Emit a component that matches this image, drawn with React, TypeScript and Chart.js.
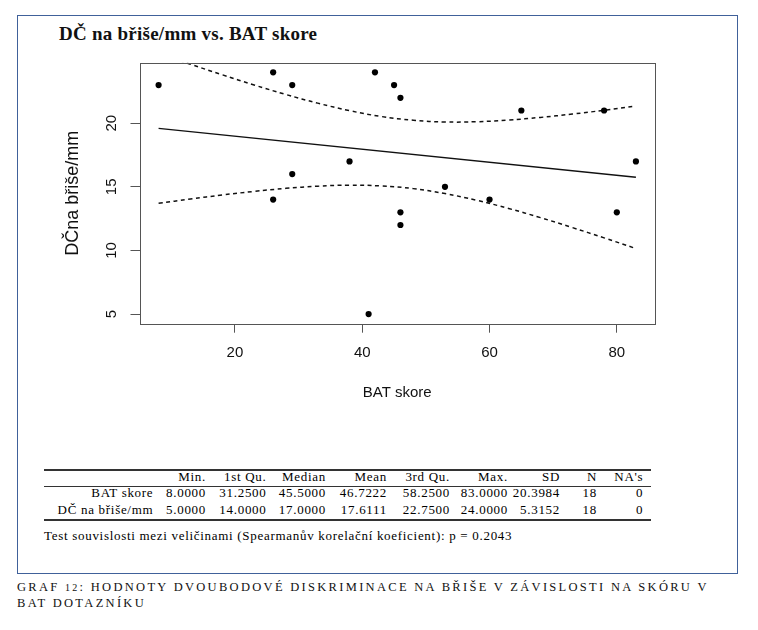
import React, { useEffect, useRef } from "react";
import { Chart, registerables } from "chart.js";

Chart.register(...registerables);

// ---- data ----
const batScore = [8, 26, 26, 29, 29, 38, 41, 42, 45, 46, 46, 46, 53, 60, 65, 78, 80, 83];
const dcBrise = [23, 24, 14, 23, 16, 17, 5, 24, 23, 22, 13, 12, 15, 14, 21, 21, 13, 17];

const fitX = [8, 83];
const fitY = [19.6, 15.75];

const bandX = [8, 13, 18, 23, 28, 33, 38, 43, 48, 53, 58, 63, 68, 73, 78, 83];
const bandUpper = [25.49, 24.64, 23.81, 23.01, 22.26, 21.58, 20.99, 20.53, 20.24, 20.1, 20.12, 20.25, 20.46, 20.72, 21.02, 21.35];
const bandLower = [13.71, 14.04, 14.36, 14.64, 14.88, 15.05, 15.13, 15.07, 14.86, 14.47, 13.94, 13.3, 12.58, 11.8, 10.99, 10.15];

const xTicks = [20, 40, 60, 80];
const yTicks = [5, 10, 15, 20];
const xRange = [5, 86];
const yRange = [4.24, 24.76];

const chartTitle = "DČ na břiše/mm vs. BAT skore";
const xTitle = "BAT skore";
const yTitle = "DČna břiše/mm";

const tableHeader = ["Min.", "1st Qu.", "Median", "Mean", "3rd Qu.", "Max.", "SD", "N", "NA's"];
const rowLabels = ["BAT skore", "DČ na břiše/mm"];
const batStats = ["8.0000", "31.2500", "45.5000", "46.7222", "58.2500", "83.0000", "20.3984", "18", "0"];
const dcStats = ["5.0000", "14.0000", "17.0000", "17.6111", "22.7500", "24.0000", "5.3152", "18", "0"];
const testLine = "Test souvislosti mezi veličinami (Spearmanův korelační koeficient): p = 0.2043";
const captionLine1 = "HODNOTY DVOUBODOVÉ DISKRIMINACE NA BŘIŠE V ZÁVISLOSTI NA SKÓRU V";
const captionLine2 = "BAT DOTAZNÍKU";

// ---- layout constants ----
const SANS = '"Liberation Sans", Arial, Helvetica, sans-serif';
const SERIF = '"Liberation Serif", "Times New Roman", serif';
const colRight = [206, 266.5, 326, 387, 450, 508, 560, 597, 643.3];
const labelRight = 153.3;

const zip = (xs: number[], ys: number[]) => xs.map((x, i) => ({ x, y: ys[i] }));

const rAxesPlugin = {
  id: "rAxes",
  afterDraw(chart: any) {
    const { ctx, chartArea: a, scales } = chart;
    ctx.save();
    ctx.strokeStyle = "#555";
    ctx.lineWidth = 1;
    const l = Math.round(a.left) + 0.5;
    const t = Math.round(a.top) + 0.5;
    ctx.strokeRect(l, t, Math.round(a.right) - Math.round(a.left), Math.round(a.bottom) - Math.round(a.top));
    ctx.fillStyle = "#111";
    ctx.font = `15px ${SANS}`;
    ctx.textAlign = "center";
    ctx.textBaseline = "middle";
    for (const v of yTicks) {
      const py = scales.y.getPixelForValue(v);
      ctx.save();
      ctx.translate(a.left - 28, py);
      ctx.rotate(-Math.PI / 2);
      ctx.fillText(String(v), 0, 0);
      ctx.restore();
    }
    ctx.restore();
  },
};

function ScatterChart() {
  const ref = useRef<HTMLCanvasElement | null>(null);
  useEffect(() => {
    if (!ref.current) return;
    const lineBase = { showLine: true, pointRadius: 0, fill: false, borderColor: "#111", backgroundColor: "#111" };
    const chart = new Chart(ref.current, {
      type: "scatter",
      data: {
        datasets: [
          { label: "data", data: zip(batScore, dcBrise), pointRadius: 3.1, pointBorderWidth: 0, backgroundColor: "#000", borderColor: "#000", showLine: false },
          { ...lineBase, label: "fit", data: zip(fitX, fitY), borderWidth: 1.4 },
          { ...lineBase, label: "upper", data: zip(bandX, bandUpper), borderWidth: 1.5, borderDash: [4, 3.5], tension: 0.4 },
          { ...lineBase, label: "lower", data: zip(bandX, bandLower), borderWidth: 1.5, borderDash: [4, 3.5], tension: 0.4 },
        ],
      } as any,
      options: {
        animation: false,
        responsive: false,
        devicePixelRatio: 1,
        layout: { padding: { left: 45.2, top: 47.7, right: 82, bottom: 18.3 } },
        plugins: { legend: { display: false }, tooltip: { enabled: false }, title: { display: false } },
        scales: {
          x: {
            type: "linear",
            min: xRange[0],
            max: xRange[1],
            afterBuildTicks: (s: any) => { s.ticks = xTicks.map((v) => ({ value: v })); },
            grid: { display: true, drawOnChartArea: false, drawTicks: true, tickLength: 9, color: "#555", lineWidth: 1 },
            border: { display: false },
            ticks: { font: { size: 15, family: SANS }, color: "#111", padding: 11.3, maxRotation: 0, minRotation: 0, autoSkip: false },
            title: { display: true, text: xTitle, font: { size: 15, family: SANS }, color: "#111", padding: { top: 10.4, bottom: 0 } },
          },
          y: {
            type: "linear",
            min: yRange[0],
            max: yRange[1],
            afterBuildTicks: (s: any) => { s.ticks = yTicks.map((v) => ({ value: v })); },
            grid: { display: true, drawOnChartArea: false, drawTicks: true, tickLength: 9, color: "#555", lineWidth: 1 },
            border: { display: false },
            ticks: { display: false },
            title: { display: true, text: yTitle, font: { size: 18, family: SANS }, color: "#111", padding: { top: 0, bottom: 46.7 } },
          },
        },
      } as any,
      plugins: [rAxesPlugin],
    });
    return () => chart.destroy();
  }, []);
  return <canvas ref={ref} width={720} height={405} style={{ position: "absolute", left: 17, top: 15 }} />;
}

const tableFont: React.CSSProperties = { fontFamily: SERIF, fontSize: 13, lineHeight: "13px", letterSpacing: 0.7, color: "#000", whiteSpace: "nowrap", position: "absolute" };

function RightText({ x, baseline, text }: { x: number; baseline: number; text: string }) {
  return <div style={{ ...tableFont, left: x - 200, width: 200, top: baseline - 10.9, textAlign: "right" }}>{text}</div>;
}

export default function App() {
  const rows = [batStats, dcStats];
  const rowBaselines = [497, 514];
  return (
    <div style={{ position: "absolute", left: 0, top: 0, width: 758, height: 630, background: "#fff", overflow: "hidden" }}>
      <div style={{ position: "absolute", left: 17, top: 15, width: 721, height: 559, boxSizing: "border-box", border: "1px solid #40619a" }} />
      <div style={{ position: "absolute", left: 59, top: 24.1, fontFamily: SERIF, fontWeight: "bold", fontSize: 19, lineHeight: "19px", letterSpacing: 0.25, color: "#111", whiteSpace: "nowrap" }}>{chartTitle}</div>
      <ScatterChart />
      {/* table rules */}
      <div style={{ position: "absolute", left: 44, top: 469.3, width: 607, height: 1.5, background: "#333" }} />
      <div style={{ position: "absolute", left: 44, top: 486.2, width: 607, height: 1, background: "#333" }} />
      <div style={{ position: "absolute", left: 44, top: 519.3, width: 607, height: 1.5, background: "#333" }} />
      {tableHeader.map((h, i) => <RightText key={"h" + i} x={colRight[i]} baseline={480.7} text={h} />)}
      {rowLabels.map((r, j) => <RightText key={"l" + j} x={labelRight} baseline={rowBaselines[j]} text={r} />)}
      {rows.map((row, j) => row.map((v, i) => <RightText key={"c" + j + "_" + i} x={colRight[i]} baseline={rowBaselines[j]} text={v} />))}
      <div style={{ ...tableFont, left: 44, top: 540 - 10.9 }}>{testLine}</div>
      <div style={{ position: "absolute", left: 17, top: 580.4, fontFamily: SERIF, fontSize: 12.5, lineHeight: "14.7px", letterSpacing: 2.3, color: "#111", whiteSpace: "nowrap" }}>
        <div>GRAF <span style={{ fontSize: 10 }}>12</span>: {captionLine1}</div>
        <div>{captionLine2}</div>
      </div>
    </div>
  );
}
